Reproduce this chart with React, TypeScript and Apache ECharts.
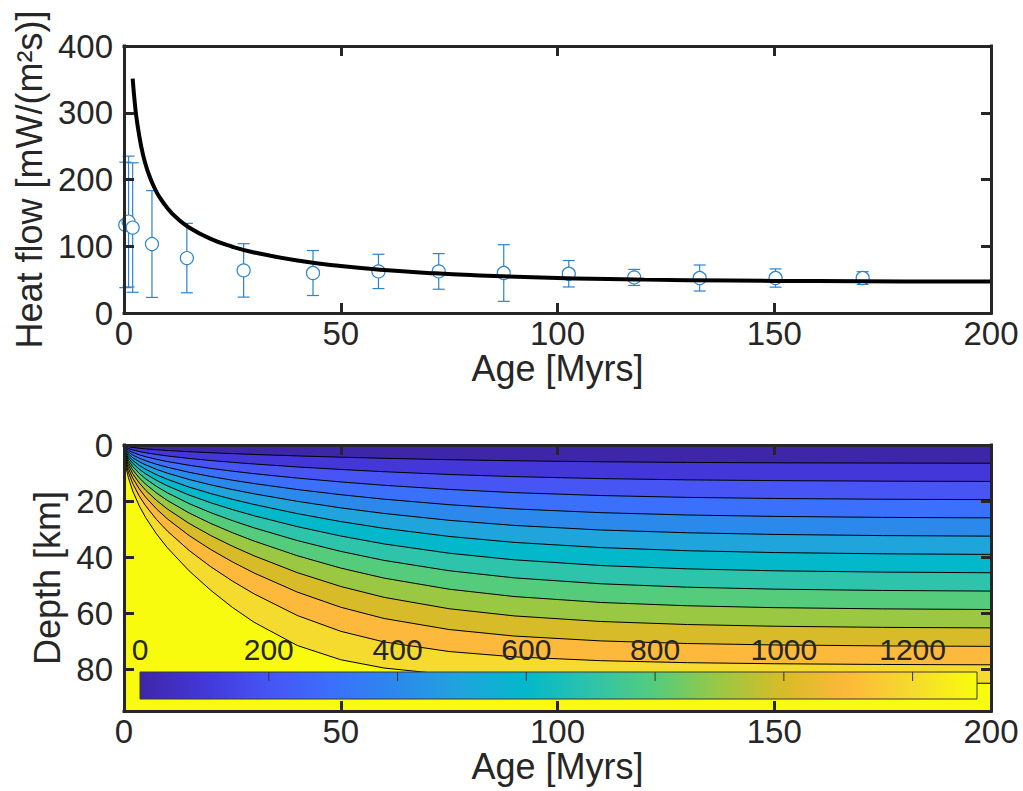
import React, { useEffect, useRef } from "react";
import * as echarts from "echarts";

// ---------- Data ----------
const AGE_TICK_STEP = 50;
const AGE_RANGE = [0, 200];
const HF_RANGE = [0, 400];
const HF_TICK_STEP = 100;
const DEPTH_RANGE = [0, 95];
const DEPTH_TICK_STEP = 20;
const CBAR_RANGE = [0, 1300];
const CBAR_TICK_STEP = 200;
const CBAR_TICKS = [200, 400, 600, 800, 1000, 1200];

// Observed heat flow (circles with error bars)
const OBS_AGE = [0.3, 1.05, 2.0, 6.45, 14.5, 27.6, 43.6, 58.7, 72.6, 87.6, 102.6, 117.7, 132.8, 150.3, 170.4];
const OBS_HF = [132, 137, 128, 103.3, 82.3, 63.8, 59.9, 62.3, 62.3, 59.9, 58.8, 53.3, 52.4, 52.4, 52.4];
const OBS_ERR = [94, 98, 97, 80, 52, 40, 33.7, 25.7, 26.7, 42.4, 19.8, 12, 19.5, 13.7, 9.5];

// Model heat flow curve
const MODEL_AGE = [2, 2.5, 3, 4, 5, 6, 7, 8, 10, 12, 15, 20, 25, 30, 40, 50, 60, 70, 80, 100, 120, 140, 160, 180, 200];
const MODEL_HF = [351, 314, 287, 248.5, 222, 203, 188, 175.7, 157.2, 143.4, 128.2, 111.1, 99.3, 90.7, 78.6, 70.4, 64.5, 60.1, 56.8, 52.5, 50.0, 48.6, 47.8, 47.3, 47.1];

// Isotherm depths (km) at each age (Myr), levels 100..1300 °C
const GRID_AGE = [0, 0.25, 0.5, 1, 2, 3.5, 5, 7.5, 10, 15, 20, 25, 30, 40, 50, 60, 75, 90, 110, 130, 150, 175, 200];
const ISO_100 = [0, 0.31, 0.44, 0.62, 0.87, 1.15, 1.38, 1.69, 1.95, 2.39, 2.76, 3.08, 3.38, 3.9, 4.35, 4.75, 5.25, 5.63, 5.99, 6.22, 6.36, 6.45, 6.5];
const ISO_200 = [0, 0.62, 0.88, 1.24, 1.75, 2.32, 2.77, 3.39, 3.92, 4.8, 5.54, 6.19, 6.78, 7.83, 8.74, 9.54, 10.53, 11.29, 12.0, 12.45, 12.72, 12.91, 13.01];
const ISO_300 = [0, 0.93, 1.32, 1.87, 2.64, 3.5, 4.18, 5.12, 5.91, 7.24, 8.36, 9.34, 10.24, 11.82, 13.19, 14.39, 15.87, 17.01, 18.05, 18.71, 19.1, 19.37, 19.51];
const ISO_400 = [0, 1.26, 1.78, 2.51, 3.56, 4.7, 5.62, 6.89, 7.95, 9.74, 11.25, 12.57, 13.77, 15.9, 17.75, 19.35, 21.32, 22.81, 24.17, 25.0, 25.5, 25.85, 26.03];
const ISO_500 = [0, 1.59, 2.25, 3.18, 4.5, 5.95, 7.11, 8.71, 10.06, 12.32, 14.23, 15.91, 17.43, 20.12, 22.45, 24.45, 26.9, 28.72, 30.36, 31.35, 31.94, 32.35, 32.55];
const ISO_600 = [0, 1.94, 2.74, 3.88, 5.48, 7.25, 8.67, 10.62, 12.26, 15.02, 17.34, 19.39, 21.24, 24.51, 27.35, 29.76, 32.66, 34.78, 36.64, 37.76, 38.41, 38.86, 39.08];
const ISO_700 = [0, 2.31, 3.26, 4.61, 6.52, 8.63, 10.31, 12.63, 14.59, 17.87, 20.63, 23.06, 25.27, 29.16, 32.5, 35.33, 38.65, 41.01, 43.05, 44.24, 44.93, 45.39, 45.63];
const ISO_800 = [0, 2.7, 3.82, 5.4, 7.64, 10.11, 12.08, 14.79, 17.08, 20.92, 24.16, 27.01, 29.59, 34.14, 38.0, 41.22, 44.91, 47.45, 49.57, 50.79, 51.48, 51.95, 52.18];
const ISO_900 = [0, 3.13, 4.43, 6.26, 8.86, 11.72, 14.0, 17.15, 19.81, 24.26, 28.01, 31.32, 34.3, 39.56, 43.96, 47.54, 51.5, 54.12, 56.24, 57.42, 58.09, 58.53, 58.75];
const ISO_1000 = [0, 3.61, 5.11, 7.23, 10.22, 13.52, 16.16, 19.79, 22.85, 27.99, 32.32, 36.14, 39.58, 45.6, 50.53, 54.41, 58.48, 61.04, 63.04, 64.12, 64.73, 65.13, 65.32];
const ISO_1100 = [0, 4.17, 5.9, 8.35, 11.8, 15.61, 18.66, 22.85, 26.39, 32.32, 37.32, 41.73, 45.71, 52.55, 57.95, 61.96, 65.9, 68.23, 69.97, 70.9, 71.4, 71.75, 71.91];
const ISO_1200 = [0, 4.86, 6.87, 9.72, 13.74, 18.18, 21.73, 26.61, 30.73, 37.64, 43.46, 48.59, 53.16, 60.91, 66.54, 70.35, 73.76, 75.66, 77.03, 77.74, 78.12, 78.38, 78.5];
const ISO_1300 = [0, 5.8, 8.2, 11.6, 16.4, 21.7, 25.94, 31.76, 36.68, 44.92, 51.87, 58.0, 63.3, 71.62, 76.7, 79.65, 82.05, 83.3, 84.17, 84.62, 84.86, 85.02, 85.1];
const ISOTHERMS = [ISO_100, ISO_200, ISO_300, ISO_400, ISO_500, ISO_600, ISO_700, ISO_800, ISO_900, ISO_1000, ISO_1100, ISO_1200, ISO_1300];

// Band colours (parula), band 0 = coldest
const BAND_COLORS = [
  "#3e26a8", "#4437d9", "#4655f4", "#3a70fc", "#2c89ec", "#1fa5dc", "#03b8ca",
  "#2ec3ab", "#55cc7c", "#9ac843", "#d8bb28", "#fdb93b", "#f5db2d", "#f9fb0e",
];

const INK = "#262626";
const BLUE = "#2a84cf";
const FONT = "'Liberation Sans', Arial, Helvetica, sans-serif";

function buildOption(): any {
  const labelStyle = { color: INK, fontFamily: FONT, fontSize: 33 };
  const nameStyle = { color: INK, fontFamily: FONT, fontSize: 36 };
  const frame = (extra: any) => ({
    type: "value",
    z: 10,
    splitLine: { show: false },
    axisLine: { show: true, onZero: false, lineStyle: { color: INK, width: 3, cap: "square" } },
    axisTick: { show: true, inside: true, length: 10, lineStyle: { color: INK, width: 3 } },
    ...extra,
  });
  const ageAxis = (grid: number, bottom: boolean) =>
    frame({
      gridIndex: grid,
      position: bottom ? "bottom" : "top",
      min: AGE_RANGE[0],
      max: AGE_RANGE[1],
      interval: AGE_TICK_STEP,
      axisLabel: bottom ? { ...labelStyle, margin: 4 } : { show: false },
      name: bottom ? "Age [Myrs]" : "",
      nameLocation: "middle",
      nameGap: 35,
      nameTextStyle: nameStyle,
    });

  const series: any[] = [];

  // error bars
  series.push({
    type: "custom",
    xAxisIndex: 0,
    yAxisIndex: 0,
    z: 2,
    clip: false,
    data: OBS_AGE.map((a, i) => [a, OBS_HF[i] - OBS_ERR[i], OBS_HF[i] + OBS_ERR[i]]),
    encode: { x: 0, y: [1, 2] },
    renderItem: (_p: any, api: any) => {
      const x = api.value(0);
      const lo = api.coord([x, api.value(1)]);
      const hi = api.coord([x, api.value(2)]);
      const w = 6;
      const style = { stroke: BLUE, lineWidth: 1.2, fill: null };
      return {
        type: "group",
        children: [
          { type: "line", shape: { x1: lo[0], y1: lo[1], x2: hi[0], y2: hi[1] }, style },
          { type: "line", shape: { x1: lo[0] - w, y1: lo[1], x2: lo[0] + w, y2: lo[1] }, style },
          { type: "line", shape: { x1: hi[0] - w, y1: hi[1], x2: hi[0] + w, y2: hi[1] }, style },
        ],
      };
    },
  });
  series.push({
    type: "scatter",
    xAxisIndex: 0,
    yAxisIndex: 0,
    z: 3,
    symbol: "circle",
    symbolSize: 13,
    clip: false,
    itemStyle: { color: "#ffffff", borderColor: BLUE, borderWidth: 1.2, opacity: 1 },
    data: OBS_AGE.map((a, i) => [a, OBS_HF[i]]),
  });
  series.push({
    type: "line",
    xAxisIndex: 0,
    yAxisIndex: 0,
    z: 4,
    smooth: true,
    symbol: "none",
    showSymbol: false,
    lineStyle: { color: "#000000", width: 4 },
    data: MODEL_AGE.map((a, i) => [a, MODEL_HF[i]]),
  });

  // filled isotherm bands (each fills from its isotherm down to the bottom)
  ISOTHERMS.forEach((iso, k) => {
    series.push({
      type: "line",
      xAxisIndex: 2,
      yAxisIndex: 2,
      z: 2,
      silent: true,
      smooth: false,
      symbol: "none",
      showSymbol: false,
      lineStyle: { color: "#000000", width: 1, join: "round" },
      areaStyle: { color: BAND_COLORS[k + 1], opacity: 1, origin: "end" },
      data: GRID_AGE.map((a, i) => [a, iso[i]]),
    });
  });

  // colour bar (gradient + ticks along its top edge)
  const stops = BAND_COLORS.map((c, i) => ({ offset: i / (BAND_COLORS.length - 1), color: c }));
  series.push({
    type: "custom",
    xAxisIndex: 4,
    yAxisIndex: 4,
    z: 5,
    silent: true,
    clip: false,
    data: [[CBAR_RANGE[0], CBAR_RANGE[1]]],
    encode: { x: [0, 1] },
    renderItem: (_p: any, api: any) => {
      const p0 = api.coord([api.value(0), 1]);
      const p1 = api.coord([api.value(1), 0]);
      const ticks = CBAR_TICKS.map((t) => {
        const p = api.coord([t, 1]);
        return {
          type: "line",
          shape: { x1: p[0], y1: p0[1], x2: p[0], y2: p0[1] + 9 },
          style: { stroke: "#333333", lineWidth: 1 },
        };
      });
      return {
        type: "group",
        children: [
          {
            type: "rect",
            shape: { x: p0[0], y: p0[1], width: p1[0] - p0[0], height: p1[1] - p0[1] },
            style: {
              fill: new echarts.graphic.LinearGradient(0, 0, 1, 0, stops),
              stroke: "#3a3a3a",
              lineWidth: 1,
            },
          },
          ...ticks,
        ],
      };
    },
  });

  return {
    animation: false,
    backgroundColor: "#ffffff",
    grid: [
      { left: 124, top: 46, width: 867, height: 267 },
      { left: 124, top: 445, width: 867, height: 266, show: true, backgroundColor: BAND_COLORS[0], borderWidth: 0 },
      { left: 140, top: 672, width: 837, height: 27 },
    ],
    xAxis: [
      ageAxis(0, true),
      ageAxis(0, false),
      ageAxis(1, true),
      ageAxis(1, false),
      {
        type: "value",
        gridIndex: 2,
        position: "top",
        z: 10,
        min: CBAR_RANGE[0],
        max: CBAR_RANGE[1],
        interval: CBAR_TICK_STEP,
        splitLine: { show: false },
        axisLine: { show: false, onZero: false },
        axisTick: { show: false },
        axisLabel: {
          color: INK,
          fontFamily: FONT,
          fontSize: 30,
          margin: 8,
          formatter: (v: number) => (v % CBAR_TICK_STEP === 0 ? String(v) : ""),
        },
      },
    ],
    yAxis: [
      frame({
        gridIndex: 0,
        position: "left",
        min: HF_RANGE[0],
        max: HF_RANGE[1],
        interval: HF_TICK_STEP,
        axisLabel: { ...labelStyle, margin: 11 },
        name: "Heat flow [mW/(m²s)]",
        nameLocation: "middle",
        nameRotate: 90,
        nameGap: 66,
        nameTextStyle: nameStyle,
      }),
      frame({
        gridIndex: 0,
        position: "right",
        min: HF_RANGE[0],
        max: HF_RANGE[1],
        interval: HF_TICK_STEP,
        axisLabel: { show: false },
      }),
      frame({
        gridIndex: 1,
        position: "left",
        inverse: true,
        min: DEPTH_RANGE[0],
        max: DEPTH_RANGE[1],
        interval: DEPTH_TICK_STEP,
        axisLabel: {
          ...labelStyle,
          margin: 11,
          formatter: (v: number) => (v % DEPTH_TICK_STEP === 0 ? String(v) : ""),
        },
        name: "Depth [km]",
        nameLocation: "middle",
        nameRotate: 90,
        nameGap: 44,
        nameTextStyle: nameStyle,
      }),
      frame({
        gridIndex: 1,
        position: "right",
        inverse: true,
        min: DEPTH_RANGE[0],
        max: DEPTH_RANGE[1],
        interval: DEPTH_TICK_STEP,
        axisLabel: { show: false },
      }),
      { type: "value", gridIndex: 2, min: 0, max: 1, show: false },
    ],
    series,
  };
}

export default function App() {
  const ref = useRef<HTMLDivElement>(null);
  useEffect(() => {
    document.body.style.margin = "0";
    if (!ref.current) return;
    const chart = echarts.init(ref.current, undefined, { renderer: "svg" });
    chart.setOption(buildOption());
    return () => chart.dispose();
  }, []);
  return (
    <div
      ref={ref}
      style={{ position: "absolute", left: 0, top: 0, width: 1023, height: 791, background: "#fff" }}
    />
  );
}
